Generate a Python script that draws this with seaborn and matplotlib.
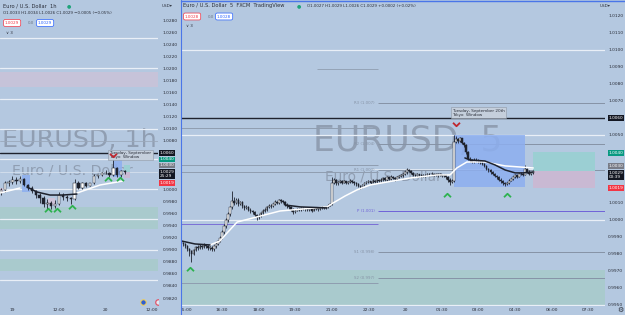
import numpy as np
import pandas as pd
import matplotlib
matplotlib.use("Agg")
import matplotlib.pyplot as plt
import seaborn as sns
from matplotlib.patches import Rectangle
from matplotlib.path import Path
from matplotlib.lines import Line2D
from matplotlib.transforms import Bbox

# ====================== DATA ======================
# Right pane: EURUSD 5-minute bars, time in hours after 15:00 (Sep 19)
r5_start_h = -10 / 60
r5_step_h = 5 / 60
r5_open0 = 0.99870
r5_close = [
    0.99862, 0.99858,
    0.99845, 0.99830, 0.99815, 0.99800, 0.99822, 0.99840, 0.99835, 0.99848, 0.99840, 0.99852, 0.99845, 0.99838,
    0.99838, 0.99828, 0.99845, 0.99860, 0.99878, 0.99895, 0.99930, 0.99965, 1.00000, 1.00035, 1.00075, 1.00110,
    1.00100, 1.00120, 1.00095, 1.00105, 1.00080, 1.00070, 1.00078, 1.00060, 1.00050, 1.00045, 1.00030, 1.00015,
    1.00025, 1.00040, 1.00055, 1.00060, 1.00075, 1.00085, 1.00080, 1.00095, 1.00105, 1.00100, 1.00115, 1.00110,
    1.00105, 1.00090, 1.00080, 1.00075, 1.00060, 1.00045, 1.00055, 1.00065, 1.00060, 1.00070, 1.00068, 1.00062,
    1.00058, 1.00062, 1.00055, 1.00065, 1.00070, 1.00062, 1.00068, 1.00072, 1.00070, 1.00078, 1.00085, 1.00095,
    1.00220, 1.00235, 1.00215, 1.00225, 1.00230, 1.00220, 1.00228, 1.00218, 1.00225, 1.00232, 1.00222, 1.00215,
    1.00210, 1.00200, 1.00192, 1.00205, 1.00215, 1.00222, 1.00228, 1.00220, 1.00232, 1.00225, 1.00235, 1.00230,
    1.00238, 1.00245, 1.00235, 1.00250, 1.00242, 1.00255, 1.00248, 1.00240, 1.00252, 1.00258, 1.00262, 1.00270,
    1.00280, 1.00295, 1.00290, 1.00275, 1.00265, 1.00260, 1.00268, 1.00262, 1.00258, 1.00265, 1.00262, 1.00270,
    1.00268, 1.00272, 1.00265, 1.00270, 1.00262, 1.00268, 1.00258, 1.00265, 1.00250, 1.00238, 1.00225, 1.00232,
    1.00460, 1.00475, 1.00465, 1.00480, 1.00455, 1.00440, 1.00400, 1.00360, 1.00350, 1.00342, 1.00355, 1.00348,
    1.00345, 1.00338, 1.00330, 1.00318, 1.00300, 1.00295, 1.00280, 1.00270, 1.00258, 1.00250, 1.00238, 1.00228,
    1.00215, 1.00210, 1.00218, 1.00232, 1.00240, 1.00250, 1.00262, 1.00255, 1.00268, 1.00272, 1.00265, 1.00300,
    1.00285, 1.00270, 1.00278, 1.00290,
]
r5_high = [
    0.99878, 0.99870,
    0.99865, 0.99852, 0.99838, 0.99822, 0.99830, 0.99848, 0.99850, 0.99858, 0.99855, 0.99862, 0.99860, 0.99850,
    0.99848, 0.99845, 0.99852, 0.99868, 0.99885, 0.99905, 0.99940, 0.99975, 1.00010, 1.00048, 1.00085, 1.00168,
    1.00135, 1.00130, 1.00128, 1.00112, 1.00112, 1.00090, 1.00088, 1.00085, 1.00068, 1.00058, 1.00052, 1.00038,
    1.00035, 1.00048, 1.00062, 1.00068, 1.00082, 1.00092, 1.00092, 1.00102, 1.00115, 1.00110, 1.00122, 1.00122,
    1.00118, 1.00112, 1.00098, 1.00088, 1.00082, 1.00068, 1.00062, 1.00072, 1.00072, 1.00078, 1.00078, 1.00072,
    1.00068, 1.00070, 1.00068, 1.00072, 1.00078, 1.00075, 1.00075, 1.00080, 1.00078, 1.00085, 1.00092, 1.00102,
    1.00250, 1.00245, 1.00240, 1.00232, 1.00238, 1.00235, 1.00235, 1.00232, 1.00232, 1.00240, 1.00238, 1.00228,
    1.00222, 1.00218, 1.00208, 1.00212, 1.00222, 1.00230, 1.00235, 1.00232, 1.00240, 1.00238, 1.00242, 1.00240,
    1.00245, 1.00252, 1.00250, 1.00258, 1.00255, 1.00262, 1.00260, 1.00252, 1.00260, 1.00265, 1.00270, 1.00278,
    1.00290, 1.00305, 1.00302, 1.00295, 1.00280, 1.00272, 1.00275, 1.00272, 1.00268, 1.00272, 1.00270, 1.00278,
    1.00278, 1.00280, 1.00278, 1.00278, 1.00275, 1.00275, 1.00272, 1.00272, 1.00268, 1.00258, 1.00245, 1.00240,
    1.00500, 1.00492, 1.00485, 1.00488, 1.00482, 1.00460, 1.00445, 1.00405, 1.00368, 1.00358, 1.00365, 1.00362,
    1.00358, 1.00355, 1.00345, 1.00338, 1.00325, 1.00308, 1.00302, 1.00288, 1.00278, 1.00265, 1.00258, 1.00245,
    1.00235, 1.00222, 1.00225, 1.00240, 1.00248, 1.00258, 1.00270, 1.00265, 1.00275, 1.00280, 1.00278, 1.00322,
    1.00305, 1.00292, 1.00285, 1.00295,
]
r5_low = [
    0.99850, 0.99845,
    0.99838, 0.99815, 0.99790, 0.99752, 0.99795, 0.99815, 0.99825, 0.99828, 0.99832, 0.99835, 0.99835, 0.99825,
    0.99825, 0.99815, 0.99820, 0.99835, 0.99852, 0.99870, 0.99888, 0.99920, 0.99955, 0.99990, 1.00025, 1.00065,
    1.00088, 1.00092, 1.00085, 1.00088, 1.00070, 1.00060, 1.00062, 1.00052, 1.00040, 1.00035, 1.00020, 1.00002,
    1.00008, 1.00018, 1.00032, 1.00045, 1.00052, 1.00068, 1.00070, 1.00075, 1.00088, 1.00092, 1.00095, 1.00100,
    1.00098, 1.00085, 1.00072, 1.00065, 1.00050, 1.00035, 1.00040, 1.00050, 1.00052, 1.00055, 1.00060, 1.00055,
    1.00050, 1.00052, 1.00048, 1.00050, 1.00058, 1.00055, 1.00058, 1.00062, 1.00062, 1.00065, 1.00072, 1.00080,
    1.00088, 1.00210, 1.00208, 1.00208, 1.00218, 1.00212, 1.00215, 1.00210, 1.00212, 1.00218, 1.00215, 1.00205,
    1.00202, 1.00192, 1.00185, 1.00188, 1.00198, 1.00210, 1.00215, 1.00212, 1.00215, 1.00218, 1.00220, 1.00222,
    1.00222, 1.00230, 1.00228, 1.00230, 1.00235, 1.00238, 1.00240, 1.00232, 1.00235, 1.00245, 1.00250, 1.00255,
    1.00262, 1.00272, 1.00282, 1.00268, 1.00258, 1.00252, 1.00255, 1.00255, 1.00250, 1.00252, 1.00255, 1.00258,
    1.00260, 1.00262, 1.00258, 1.00260, 1.00255, 1.00258, 1.00250, 1.00252, 1.00242, 1.00225, 1.00208, 1.00218,
    1.00225, 1.00450, 1.00455, 1.00458, 1.00448, 1.00432, 1.00390, 1.00350, 1.00340, 1.00335, 1.00338, 1.00340,
    1.00338, 1.00330, 1.00322, 1.00310, 1.00292, 1.00285, 1.00272, 1.00262, 1.00250, 1.00240, 1.00228, 1.00218,
    1.00205, 1.00198, 1.00205, 1.00212, 1.00228, 1.00235, 1.00245, 1.00248, 1.00250, 1.00262, 1.00258, 1.00262,
    1.00278, 1.00262, 1.00265, 1.00272,
]

# Left pane: EURUSD 1-hour bars, time in hours after 00:00 Sep 19
l1_start_h = -3
l1_open0 = 0.9993
l1_close = [0.9998, 1.0010, 1.0012, 1.0015, 1.0013, 1.0017, 1.0007, 1.0002, 0.9997, 0.9990, 0.9985,
            0.9975, 0.9978, 0.9972, 0.9976, 0.9990, 0.9987, 0.9986, 0.9984, 1.0011, 1.0002, 1.0011,
            1.0006, 1.0010, 1.0022, 1.0023, 1.0027, 1.0027, 1.0023, 1.0035, 1.0023, 1.0030, 1.0029]
l1_high = [1.0002, 1.0014, 1.0016, 1.0022, 1.0020, 1.0022, 1.0019, 1.0009, 1.0005, 0.9999, 0.9993,
           0.9988, 0.9984, 0.9981, 0.9983, 0.9995, 0.9993, 0.9990, 0.9987, 1.0017, 1.0014, 1.0012,
           1.0012, 1.0010, 1.0025, 1.0024, 1.0028, 1.0031, 1.0028, 1.0050, 1.0036, 1.0032, 1.0032]
l1_low = [0.9990, 0.9996, 1.0006, 1.0008, 1.0009, 1.0010, 1.0005, 0.9998, 0.9993, 0.9986, 0.9978,
          0.9970, 0.9967, 0.9968, 0.9969, 0.9974, 0.9982, 0.9980, 0.9975, 0.9982, 1.0000, 1.0001,
          1.0004, 1.0005, 1.0009, 1.0019, 1.0022, 1.0025, 1.0021, 1.0022, 1.0021, 1.0020, 1.0026]

# indicator lines (hours, price)
r_white_t = [1.01, 1.42, 1.71, 2.12, 2.93, 3.88, 5.80, 6.05, 6.54, 7.03, 7.57, 9.21, 10.31, 10.84,
             11.12, 11.53, 12.27, 13.10, 14.25]
r_white_p = [0.99853, 0.99877, 0.99924, 0.99988, 1.00018, 1.00053, 1.00077, 1.00100, 1.00141, 1.00177,
             1.00206, 1.00247, 1.00265, 1.00265, 1.00306, 1.00341, 1.00341, 1.00318, 1.00306]
r_black_a_t = [-0.18, 0.39, 1.01]
r_black_a_p = [0.99877, 0.99859, 0.99853]
r_black_b_t = [4.09, 4.70, 5.80]
r_black_b_p = [1.00088, 1.00077, 1.00071]
r_black_c_t = [11.45, 11.66, 12.27, 12.68, 13.10, 13.51, 13.83, 14.25]
r_black_c_p = [1.00365, 1.00353, 1.00347, 1.00324, 1.00294, 1.00277, 1.00277, 1.00282]
l_white_a_t = [-3.22, 1.9]
l_white_a_p = [0.99937, 1.00020]
l_white_b_t = [16.6, 22.55, 28.5]
l_white_b_p = [0.99937, 1.00070, 1.00136]
l_black_t = [3.74, 6.31, 9.66, 13.0, 16.6]
l_black_p = [1.00037, 0.99954, 0.99904, 0.99904, 0.99921]

# levels
round_levels = [1.0250, 1.0200, 1.0150, 1.0100, 1.0050, 1.0000, 0.9950, 0.9900, 0.9850]
key_level = 1.0060
pivot_vals = [1.00688, 1.00447, 1.00294, 1.00053, 0.99812, 0.99659]
pivot_text = ['R3 (1.007)', 'R2 (1.004)', 'R1 (1.003)', 'P (1.001)', 'S1 (0.998)', 'S2 (0.997)']
prev_pivots = [1.00541, 1.00324, 1.00282, 0.99976, 0.99629]
left_gray_level = 1.0080
demand_zones = [(0.99342, 0.99706), (0.98647, 0.98845)]
supply_zone = (1.01691, 1.01940)
entry_p, target_p, stop_p = 1.0029, 1.0040, 1.0019
# Tokyo session boxes: (start, end, low, high)
r_tokyo = (11.0, 13.92, 1.00195, 1.00500)
l_tokyo = [(2.4, 4.5, 0.9995, 1.0023), (25.9, 28.2, 1.0020, 1.0050)]
# signal marks
r_up_t, r_up_p = [0.19, 10.72, 13.18], [0.99712, 1.00147, 1.00147]
r_dn_t, r_dn_p = [11.09], [1.00565]
l_up_t, l_up_p = [9.15, 11.47, 15.34, 24.6, 27.7], [0.99656, 0.99656, 0.99706, 1.00169, 1.00169]
l_dn_t, l_dn_p = [25.9], [1.00566]

r_ytick = [1.0120, 1.0110, 1.0100, 1.0090, 1.0080, 1.0070, 1.0050, 1.0010, 1.0000,
           0.9990, 0.9980, 0.9970, 0.9960, 0.9950]
l_ytick = [1.0280, 1.0260, 1.0240, 1.0220, 1.0200, 1.0180, 1.0160, 1.0140, 1.0120, 1.0100, 1.0080,
           1.0000, 0.9980, 0.9960, 0.9940, 0.9920, 0.9900, 0.9880, 0.9860, 0.9840, 0.9820]
r_xtick = [1.5, 3, 4.5, 6, 7.5, 9, 10.5, 12, 13.5, 15, 16.5]
r_xlab = ['16:30', '18:00', '19:30', '21:00', '22:30', '20', '01:30', '03:00', '04:30', '06:00', '07:30']
l_xtick = [0, 12, 24, 36]
l_xlab = ['19', '12:00', '20', '12:00']

# ====================== STYLE ======================
W, H = 625, 315
BG = '#b4c8e0'
DARK = '#1e222d'
TXT = '#2a2e39'
WM = '#8a97aa'

sns.set_theme(style='white', rc={'axes.facecolor': BG, 'figure.facecolor': BG})
plt.rcParams['font.family'] = ['DejaVu Sans']

fig = plt.figure(figsize=(W / 100, H / 100), dpi=100)


def frac(x0, y0, x1, y1):
    return [x0 / W, 1 - y1 / H, (x1 - x0) / W, (y1 - y0) / H]


axL = fig.add_axes(frac(0, 0, 158, 306))
axR = fig.add_axes(frac(181, 0, 605, 306))
for ax in (axL, axR):
    ax.set_facecolor(BG)
    for s in ax.spines.values():
        s.set_visible(False)


def draw_candles(ax, t, o, h, l, c, body_w, wick_lw, min_body):
    t = np.asarray(t, float); o = np.asarray(o); h = np.asarray(h)
    l = np.asarray(l); c = np.asarray(c)
    ax.vlines(t, l, h, colors=DARK, lw=wick_lw, zorder=5)
    up = c >= o
    body = np.maximum(np.abs(c - o), min_body)
    bot = np.minimum(o, c)
    ax.bar(t[up], body[up], bottom=bot[up], width=body_w, color='white',
           edgecolor=DARK, linewidth=0.35, zorder=6)
    ax.bar(t[~up], body[~up], bottom=bot[~up], width=body_w, color=DARK,
           edgecolor=DARK, linewidth=0.35, zorder=6)


def ma_line(ax, t, p, color, lw):
    df = pd.DataFrame({'t': t, 'p': p})
    sns.lineplot(data=df, x='t', y='p', ax=ax, color=color, lw=lw, sort=False,
                 estimator=None, zorder=7)


chev_up = Path([(-1, -0.5), (0, 0.5), (1, -0.5)], [Path.MOVETO, Path.LINETO, Path.LINETO])
chev_dn = Path([(-1, 0.5), (0, -0.5), (1, 0.5)], [Path.MOVETO, Path.LINETO, Path.LINETO])

# ---------- RIGHT PANE ----------
r_t = r5_start_h + r5_step_h * np.arange(len(r5_close))
r_open = np.concatenate([[r5_open0], np.asarray(r5_close[:-1])])
ax = axR
ax.axhspan(demand_zones[0][0], demand_zones[0][1], color='#a9cacd', zorder=1, lw=0)
for lv in round_levels:
    ax.axhline(lv, color='#e9eff7', lw=0.9, zorder=2)
ax.axhline(key_level, color='#1e222d', lw=1.0, zorder=3)
ax.hlines(1.00888, 5.4, 7.9, color='#8f9db0', lw=0.6, zorder=2)
for i, lv in enumerate(prev_pivots):
    col = '#7b6fd6' if i == 3 else '#8f9db0'
    ax.hlines(lv, -0.18, 7.9, color=col, lw=0.7, zorder=2)
for lv, txt in zip(pivot_vals, pivot_text):
    col = '#6f62d8' if txt.startswith('P') else '#8693a6'
    ax.hlines(lv, 7.9, 17.19, color=col, lw=0.7, zorder=2)
    ax.text(7.75, lv, txt, fontsize=2.8, color=col, ha='right', va='center', zorder=3)
ax.hlines(1.0030, 7.6, 14.25, color='#dfe7f2', lw=0.7, zorder=2)
# Tokyo session box
ts, te, tl, th = r_tokyo
ax.add_patch(Rectangle((ts, tl), te - ts, th - tl, fc='#8daff0', ec='none', alpha=0.85, zorder=3))
ax.text(ts - 0.08, 1.00632, 'Tuesday, September 20th\nTokyo  Window', fontsize=3.0, color=TXT,
        ha='left', va='center', linespacing=1.0, zorder=8,
        bbox=dict(boxstyle='square,pad=0.3', fc='#c5cfdc', ec='#8e98a6', lw=0.4))
# position tool
ax.add_patch(Rectangle((14.25, entry_p), 2.54, target_p - entry_p, fc='#9bcfd3', ec='none', zorder=3))
ax.add_patch(Rectangle((14.25, stop_p), 2.54, entry_p - stop_p, fc='#c9b9d3', ec='none', zorder=3))
# watermark
ax.text((313 - 181) / 424, (306 - 151) / 306, 'EURUSD, 5', transform=ax.transAxes, fontsize=25,
        color=WM, alpha=0.85, ha='left', va='baseline', zorder=0.5)
ax.text((325 - 181) / 424, (306 - 180) / 306, 'Euro / U.S. Dollar', transform=ax.transAxes,
        fontsize=9.8, color=WM, alpha=0.85, ha='left', va='baseline', zorder=0.5)
draw_candles(ax, r_t, r_open, r5_high, r5_low, r5_close, 0.06, 0.6, 0.00002)
ma_line(ax, r_white_t, r_white_p, 'white', 1.1)
ma_line(ax, r_black_a_t, r_black_a_p, DARK, 1.1)
ma_line(ax, r_black_b_t, r_black_b_p, DARK, 1.1)
ma_line(ax, r_black_c_t, r_black_c_p, DARK, 1.1)
ax.plot(r_up_t, r_up_p, ls='none', marker=chev_up, ms=5, mfc='none', mec='#2db24f', mew=1.3, zorder=9)
ax.plot(r_dn_t, r_dn_p, ls='none', marker=chev_dn, ms=5, mfc='none', mec='#c0262d', mew=1.3, zorder=9)
ax.set_xlim(-0.18, 17.19)
ax.set_ylim(0.99494, 1.01294)

# ---------- LEFT PANE ----------
l_t = l1_start_h + np.arange(len(l1_close))
l_open = np.concatenate([[l1_open0], np.asarray(l1_close[:-1])])
ax = axL
for lo, hi in demand_zones:
    ax.axhspan(lo, hi, color='#a9cacd', zorder=1, lw=0)
ax.axhspan(supply_zone[0], supply_zone[1], color='#c6c3d9', zorder=1, lw=0)
for lv in round_levels:
    ax.axhline(lv, color='#e9eff7', lw=0.9, zorder=2)
ax.axhline(left_gray_level, color='#9aa8ba', lw=0.6, zorder=2)
ax.axhline(key_level, color='#1e222d', lw=1.0, zorder=3)
ax.axhline(entry_p, color='#d6e0ee', lw=0.6, zorder=2)
for s, e, lo, hi in l_tokyo:
    ax.add_patch(Rectangle((s, lo), e - s, hi - lo, fc='#8daff0', ec='none', alpha=0.85, zorder=3))
ax.add_patch(Rectangle((-3.22, 0.9994), 0.77, 0.0008, fc='#cfc3d8', ec='none', zorder=3))
ax.add_patch(Rectangle((9.15, 0.99739), 1.8, 0.00116, fc='#cfc3d8', ec='none', zorder=3))
ax.add_patch(Rectangle((28.7, entry_p), 1.6, target_p - entry_p, fc='#9bcfd3', ec='none', zorder=3))
ax.add_patch(Rectangle((28.7, stop_p), 1.6, entry_p - stop_p, fc='#c9b9d3', ec='none', zorder=3))
ax.text(2 / 158, (306 - 147) / 306, 'EURUSD, 1h', transform=ax.transAxes, fontsize=18.3,
        color=WM, alpha=0.85, ha='left', va='baseline', zorder=0.5)
ax.text(12 / 158, (306 - 175) / 306, 'Euro / U.S. Dollar', transform=ax.transAxes, fontsize=10.2,
        color=WM, alpha=0.85, ha='left', va='baseline', zorder=0.5)
draw_candles(ax, l_t, l_open, l1_high, l1_low, l1_close, 0.6, 0.6, 0.00004)
ma_line(ax, l_white_a_t, l_white_a_p, 'white', 1.1)
ma_line(ax, l_white_b_t, l_white_b_p, 'white', 1.1)
ma_line(ax, l_black_t, l_black_p, DARK, 1.1)
ax.plot(l_up_t, l_up_p, ls='none', marker=chev_up, ms=5, mfc='none', mec='#2db24f', mew=1.3, zorder=9)
ax.plot(l_dn_t, l_dn_p, ls='none', marker=chev_dn, ms=5, mfc='none', mec='#c0262d', mew=1.3, zorder=9)
ax.text(25.0, 1.0057, 'Tuesday, September\nTokyo  Window', fontsize=3.0, color=TXT,
        ha='left', va='center', linespacing=1.0, zorder=8, clip_on=True,
        bbox=dict(boxstyle='square,pad=0.3', fc='#c5cfdc', ec='#8e98a6', lw=0.4))
ax.scatter([143 / 158], [1 - 302 / 306], transform=ax.transAxes, s=16, c='#2f5fd0',
           edgecolors='#f0d060', linewidths=0.8, zorder=10, clip_on=False)
ax.scatter([1.0], [1 - 302 / 306], transform=ax.transAxes, s=16, c='#e4e8f0',
           edgecolors='#e0566a', linewidths=0.9, zorder=10, clip_on=True)
ax.set_xlim(-3.22, 37.5)
ax.set_ylim(0.98068, 1.03131)

# ---------- ticks ----------
for ax, yt, xt, xl, ypad in ((axR, r_ytick, r_xtick, r_xlab, 2.2), (axL, l_ytick, l_xtick, l_xlab, 3.6)):
    ax.set_xlabel(''); ax.set_ylabel('')
    ax.yaxis.tick_right()
    ax.set_yticks(yt)
    ax.set_yticklabels([f'{v:.4f}' for v in yt])
    ax.set_xticks(xt)
    ax.set_xticklabels(xl)
    ax.tick_params(axis='y', length=0, pad=ypad, labelsize=3.2, colors=TXT)
    ax.tick_params(axis='x', length=0, pad=1.3, labelsize=3.2, colors=TXT)
    ax.grid(False)

t15 = axR.text(0, -4 / 306, '15:00', transform=axR.get_xaxis_transform(), fontsize=3.2,
               color=TXT, ha='center', va='center')
t15.set_clip_box(Bbox.from_extents(181, 0, 625, 315))
t15.set_clip_on(True)


# ---------- price-scale boxes ----------
def pbox(x, y, text, fc, tc='white'):
    fig.text(x / W, 1 - y / H, text, fontsize=3.1, color=tc, ha='left', va='center',
             linespacing=0.95, bbox=dict(boxstyle='square,pad=0.15', fc=fc, ec='none'), zorder=10)


for x0, timer in ((608.5, '00:39'), (159.8, '25:29')):
    right = x0 > 300
    pbox(x0, 118 if right else 153, '1.0060', '#131722')
    pbox(x0, 153 if right else 159.5, '1.0040', '#089981')
    pbox(x0, 166 if right else 165.5, '1.0030', '#787b86')
    pbox(x0, 175 if right else 174, '1.0029\n' + timer, '#131722')
    pbox(x0, 188 if right else 183, '1.0019', '#f23645')


# ---------- legends / header ----------
def ftext(x, y, s, size=3.7, color=TXT, **kw):
    fig.text(x / W, 1 - y / H, s, fontsize=size, color=color, va='center', **kw)


def obox(x, y, s, ec):
    fig.text(x / W, 1 - y / H, s, fontsize=3.0, color=ec, va='center', ha='left',
             bbox=dict(boxstyle='round,pad=0.35,rounding_size=0.4', fc='white', ec=ec, lw=0.5))


ftext(3, 6, 'Euro / U.S. Dollar  1h')
ftext(67, 6, '●', size=3.6, color='#1fa37a')
ftext(3, 13, 'O1.0033 H1.0034 L1.0026 C1.0029 −0.0005 (−0.05%)', size=2.9)
obox(5, 23, '1.0029', '#f23645')
ftext(28, 23, '0.0', size=2.9, color='#6a7485')
obox(38, 23, '1.0029', '#2962ff')
ftext(6, 33, '∨ 3', size=3.0)
ftext(162, 6, 'USD▾', size=3.0)

ftext(183, 6, 'Euro / U.S. Dollar  5  FXCM  TradingView')
ftext(297, 6, '●', size=3.6, color='#1fa37a')
ftext(307, 6, 'O1.0027 H1.0029 L1.0026 C1.0029 +0.0002 (+0.02%)', size=2.9)
obox(185, 16.5, '1.0028', '#f23645')
ftext(208, 16.5, '0.0', size=2.9, color='#6a7485')
obox(217, 16.5, '1.0028', '#2962ff')
ftext(186, 26, '∨ 3', size=3.0)
ftext(600, 6, 'USD▾', size=3.0)
ftext(620, 310, '⚙', size=5, color=TXT, ha='center')

fig.add_artist(Line2D([180.5 / W, 180.5 / W], [0, 1], color='#4a76e8', lw=0.8))
fig.add_artist(Line2D([181 / W, 1], [1 - 0.5 / H, 1 - 0.5 / H], color='#4a76e8', lw=1.0))

fig.savefig('out.png', dpi=100, facecolor=BG)
